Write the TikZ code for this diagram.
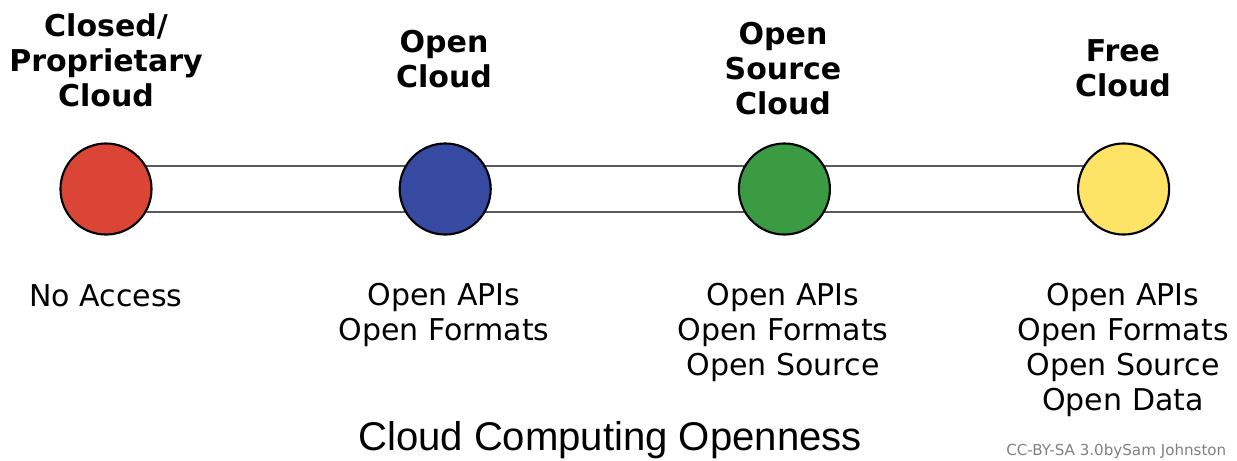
\documentclass[tikz,border=0pt]{standalone}
\usepackage{fontspec}
\setmainfont{DejaVu Sans}
\newfontfamily\captionfont{Liberation Sans}
\usepackage{tikz}
\usetikzlibrary{positioning, backgrounds}
\definecolor{closedred}{RGB}{219,69,53}
\definecolor{openblue}{RGB}{53,74,160}
\definecolor{sourcegreen}{RGB}{58,155,67}
\definecolor{freeyellow}{RGB}{253,228,103}
\definecolor{railgray}{RGB}{90,90,90}
\tikzset{
		openness dot/.style={draw=black, line width=0.6pt, circle, inner sep=0pt, minimum size=0.91cm},
		level title/.style={align=center, font=\fontsize{8.54}{9.96}\selectfont\bfseries},
		feature list/.style={align=center, font=\fontsize{8.54}{9.96}\selectfont},
		rail/.style={draw=railgray, line width=0.7pt}
	}
\begin{document}
\begin{tikzpicture}[x=0.01cm, y=-0.01cm, node distance=3.39cm]
				\useasboundingbox (0,0) rectangle (1237,460);
				\node[openness dot, fill=closedred]  (c1) at (106,189) {};
				\node[openness dot, fill=openblue]    (c2) [right of = c1] {};
				\node[openness dot, fill=sourcegreen] (c3) [right of = c2] {};
				\node[openness dot, fill=freeyellow]  (c4) [right of = c3] {};

				\begin{pgfonlayer}{background}
				\path[rail] ([yshift=0.23cm]c1.center) -- ([yshift=0.23cm]c4.center);
				\path[rail] ([yshift=-0.23cm]c1.center) -- ([yshift=-0.23cm]c4.center);
				\end{pgfonlayer}

				\node[level title] (t1) at (106,60)  {Closed/\\Proprietary\\Cloud};
				\node[level title] (t2) at (444,59)  {Open\\Cloud};
				\node[level title] (t3) at (783,69)  {Open\\Source\\Cloud};
				\node[level title] (t4) at (1123,68) {Free\\Cloud};

				\node[feature list] (f1) at (106,296)  {No Access};
				\node[feature list] (f2) at (444,315)  {Open APIs\\Open Formats};
				\node[feature list] (f3) at (783,332)  {Open APIs\\Open Formats\\Open Source};
				\node[feature list] (f4) at (1123,350) {Open APIs\\Open Formats\\Open Source\\Open Data};

				\node[font=\captionfont\fontsize{11.4}{13}\selectfont] (caption) at (610,440) {Cloud Computing Openness};
				\node[anchor=east, text=gray, inner sep=0pt, font=\fontsize{4.3}{5}\selectfont] (credit) at (1227,451) {CC-BY-SA 3.0bySam Johnston};
			\end{tikzpicture}
\end{document}
